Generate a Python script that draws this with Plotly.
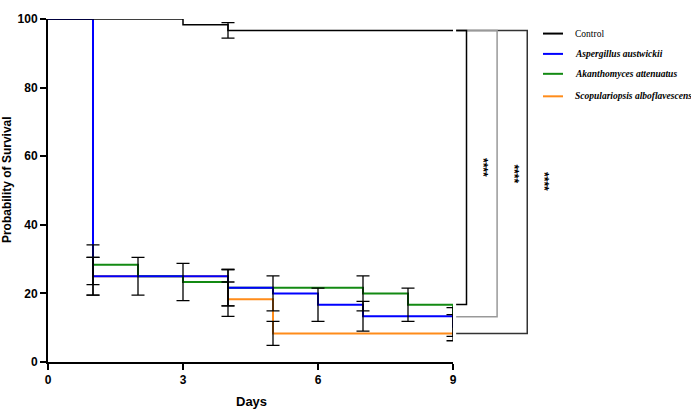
import plotly.graph_objects as go

# ---------------- data ----------------
series_names = ["Control", "Aspergillus austwickii", "Akanthomyces attenuatus", "Scopulariopsis alboflavescens"]
series_colors = ["#000000", "#0000FF", "#138A13", "#FF8C1A"]

control_days = [0, 3, 4, 9]
control_surv = [100, 98.33, 96.67, 96.67]

asper_days = [0, 1, 4, 5, 6, 7, 9]
asper_surv = [100, 25.0, 21.67, 20.0, 16.67, 13.33, 10.0]

akan_days = [0, 1, 2, 3, 4, 7, 8, 9]
akan_surv = [100, 28.33, 25.0, 23.33, 21.67, 20.0, 16.67, 11.67]

scop_days = [0, 1, 4, 5, 9]
scop_surv = [100, 25.0, 18.33, 8.33, 8.33]

# error bars (SE) at event times
control_err_days = [4]
control_err_val = [96.67]
control_err = [2.25]

asper_err_days = [1, 4, 5, 6, 7, 9]
asper_err_val = [25.0, 21.67, 20.0, 16.67, 13.33, 10.0]
asper_err = [5.5, 5.3, 5.1, 4.85, 4.35, 3.8]

akan_err_days = [1, 2, 3, 4, 7, 8, 9]
akan_err_val = [28.33, 25.0, 23.33, 21.67, 20.0, 16.67, 11.67]
akan_err = [5.8, 5.5, 5.45, 5.3, 5.1, 4.85, 4.2]

scop_err_days = [1, 4, 5]
scop_err_val = [25.0, 18.33, 8.33]
scop_err = [5.5, 5.0, 3.5]

x_ticks = [0, 3, 6, 9]
y_ticks = [0, 20, 40, 60, 80, 100]
x_title = "Days"
y_title = "Probability of Survival"
sig_label = "****"

# --------------- figure ---------------
W, H = 691, 420
ML, MR, MT, MB = 48, 238, 16, 58
XMAX, YMAX = 9, 100

fig = go.Figure()

line_sets = [
    (scop_days, scop_surv, series_colors[3], 2),
    (akan_days, akan_surv, series_colors[2], 2),
    (asper_days, asper_surv, series_colors[1], 2),
    (control_days, control_surv, series_colors[0], 1.5),
]
for xs, ys, col, w in line_sets:
    fig.add_trace(go.Scatter(x=xs, y=ys, mode="lines", line=dict(color=col, width=w, shape="hv"),
                             cliponaxis=False, showlegend=False, hoverinfo="skip"))

err_sets = [
    (scop_err_days, scop_err_val, scop_err),
    (akan_err_days, akan_err_val, akan_err),
    (asper_err_days, asper_err_val, asper_err),
    (control_err_days, control_err_val, control_err),
]
for xs, ys, es in err_sets:
    fig.add_trace(go.Scatter(x=xs, y=ys, mode="markers",
                             marker=dict(size=1, color="rgba(0,0,0,0)"),
                             error_y=dict(type="data", array=es, visible=True, color="#000000",
                                          thickness=1.3, width=6.5),
                             cliponaxis=False, showlegend=False, hoverinfo="skip"))

def px_x(day):
    return day / XMAX

def px_y(val):
    return val / YMAX

def pix_x(p):
    return (p - ML) / (W - ML - MR)

def pix_y(p):
    return (H - MB - p) / (H - MT - MB)

shapes = []
# significance brackets (control vs each)
top = control_surv[-1]
x_start = 9.07
brackets = [
    (10.65, scop_surv[-1], "#333333"),
    (9.98, 13.2, "#999999"),
    (9.30, 16.75, "#000000"),
]
for xr, bottom, col in brackets:
    path = "M {0},{1} L {2},{1} L {2},{3} L {0},{3}".format(px_x(x_start), px_y(top), px_x(xr), px_y(bottom))
    shapes.append(dict(type="path", xref="paper", yref="paper", path=path,
                       line=dict(color=col, width=1.5)))

annotations = []
star_pos = [(483.5, 165.8), (514, 171.8), (544.5, 180)]
for sx, sy in star_pos:
    annotations.append(dict(text="<b>" + sig_label + "</b>", xref="paper", yref="paper", x=pix_x(sx), y=pix_y(sy),
                            showarrow=False, textangle=90, xanchor="center", yanchor="middle",
                            font=dict(family="Liberation Sans", size=12, color="#000000")))

# manual legend
leg_y = [30.7, 51.2, 71.3, 94]
for i, name in enumerate(series_names):
    shapes.append(dict(type="line", xref="paper", yref="paper",
                       x0=pix_x(543), x1=pix_x(563), y0=pix_y(leg_y[i]), y1=pix_y(leg_y[i]),
                       line=dict(color=series_colors[i], width=2)))
    txt = name if i == 0 else "<b><i>" + name + "</i></b>"
    annotations.append(dict(text=txt, xref="paper", yref="paper", x=pix_x(572.5), y=pix_y(leg_y[i]),
                            showarrow=False, xanchor="left", yanchor="middle",
                            font=dict(family="Liberation Serif", size=9.5, color="black")))

# axis titles
annotations.append(dict(text="<b>" + x_title + "</b>", xref="paper", yref="paper",
                        x=pix_x(251), y=pix_y(402), showarrow=False, xanchor="center", yanchor="middle",
                        font=dict(family="Liberation Sans", size=13, color="black")))
annotations.append(dict(text="<b>" + y_title + "</b>", xref="paper", yref="paper",
                        x=pix_x(6.5), y=pix_y(178), showarrow=False, xanchor="center", yanchor="middle",
                        textangle=-90,
                        font=dict(family="Liberation Sans", size=12, color="black")))

axis_common = dict(showgrid=False, zeroline=False, showline=True, linecolor="black", linewidth=2,
                   ticks="outside", ticklen=6, tickwidth=2, tickcolor="black",
                   tickfont=dict(family="Liberation Sans", size=12, color="black", weight="bold"))

fig.update_layout(
    width=W, height=H,
    margin=dict(l=ML, r=MR, t=MT, b=MB, pad=0),
    paper_bgcolor="white", plot_bgcolor="white",
    xaxis=dict(range=[0, XMAX], tickvals=x_ticks, ticktext=[str(v) for v in x_ticks], **axis_common),
    yaxis=dict(range=[0, YMAX], tickvals=y_ticks, ticktext=[str(v) for v in y_ticks], **axis_common),
    shapes=shapes, annotations=annotations, showlegend=False,
)

fig.write_html("out.html", config={"displayModeBar": False, "staticPlot": True})

# remove default page margin so the figure sits at the window's top-left corner
with open("out.html", "r", encoding="utf-8") as f:
    html = f.read()
html = html.replace("<head>", "<head><style>html,body{margin:0;padding:0;overflow:hidden;}</style>", 1)
with open("out.html", "w", encoding="utf-8") as f:
    f.write(html)
